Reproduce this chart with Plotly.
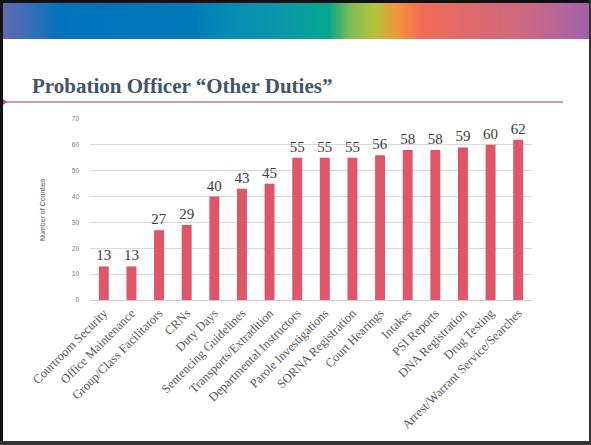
import plotly.graph_objects as go

# ---- data ----
categories = [
    "Courtroom Security", "Office Maintenance", "Group/Class Facilitators", "CRNs",
    "Duty Days", "Sentencing Guidelines", "Transports/Extradition",
    "Departmental Instructors", "Parole Investigations", "SORNA Registration",
    "Court Hearings", "Intakes", "PSI Reports", "DNA Registration", "Drug Testing",
    "Arrest/Warrant Service/Searches",
]
values = [13, 13, 27, 29, 40, 43, 45, 55, 55, 55, 56, 58, 58, 59, 60, 62]
y_ticks = [0, 10, 20, 30, 40, 50, 60, 70]

title_text = "Probation Officer \u201cOther Duties\u201d"
y_title = "Number of Counties"

W, H = 591, 445
ML, MR, MT, MB = 90, 59, 119, 145
PW, PH = W - ML - MR, H - MT - MB


def px(x):
    return (x - ML) / PW


def py(y):
    return 1 - (y - MT) / PH


fig = go.Figure()
fig.add_trace(go.Bar(
    x=categories, y=values,
    marker=dict(color="#DF5668", line=dict(width=0)),
    width=0.36,
    text=[str(v) for v in values], textposition="outside", constraintext="none",
    textfont=dict(family="Liberation Serif, DejaVu Serif, serif", size=15, color="#404040"),
    cliponaxis=False,
    hoverinfo="x+y",
))

shapes = []
# gradient header band
stops = [
    (3, (0x61, 0x67, 0xB1)), (25, (0x3F, 0x6F, 0xB5)), (60, (0x00, 0x72, 0xBB)),
    (190, (0x00, 0x79, 0xB9)), (230, (0x07, 0x8C, 0xB6)), (290, (0x0A, 0x9A, 0xA6)),
    (328, (0x05, 0xA7, 0x8C)), (350, (0x7D, 0xBB, 0x58)), (375, (0xB4, 0xC3, 0x3A)),
    (397, (0xF4, 0x95, 0x3A)), (423, (0xF2, 0x6A, 0x55)), (470, (0xDD, 0x6A, 0x6E)),
    (520, (0xD0, 0x6A, 0x7E)), (560, (0xB8, 0x65, 0x9A)), (589, (0xA0, 0x60, 0xAA)),
]


def col_at(x):
    for (x0, c0), (x1, c1) in zip(stops[:-1], stops[1:]):
        if x0 <= x <= x1:
            t = (x - x0) / (x1 - x0)
            return "rgb(%d,%d,%d)" % tuple(round(a + (b - a) * t) for a, b in zip(c0, c1))
    return "rgb(%d,%d,%d)" % stops[-1][1]


step = 3
xx = 3
while xx < 589:
    x2 = min(xx + step, 589)
    c = col_at((xx + x2) / 2)
    shapes.append(dict(type="rect", xref="paper", yref="paper",
                       x0=px(xx), x1=px(x2 + 0.6), y0=py(39), y1=py(3),
                       fillcolor=c, line=dict(width=0), layer="below"))
    xx = x2

# purple rule under the title
shapes.append(dict(type="line", xref="paper", yref="paper",
                   x0=px(3), x1=px(563), y0=py(102), y1=py(102),
                   line=dict(color="#A97CC2", width=1.5)))
shapes.append(dict(type="path", xref="paper", yref="paper",
                   path="M %f %f L %f %f L %f %f Z" % (px(3), py(99), px(7), py(102), px(3), py(105)),
                   fillcolor="#C0418F", line=dict(width=0)))
# black frame
for (x0, y0, x1, y1, c) in [
    (0, 0, 591, 3, "#111111"), (0, 0, 3, 445, "#111111"),
    (589, 0, 591, 445, "#333333"), (0, 441, 591, 445, "#333333"),
]:
    shapes.append(dict(type="rect", xref="paper", yref="paper",
                       x0=px(x0), x1=px(x1), y0=py(y1), y1=py(y0),
                       fillcolor=c, line=dict(width=0)))

annotations = [
    dict(text="<b>%s</b>" % title_text, xref="paper", yref="paper",
         x=px(30), y=py(86), xanchor="left", yanchor="middle", showarrow=False,
         font=dict(family="Liberation Serif, DejaVu Serif, serif", size=21, color="#44546A")),
    dict(text=y_title, xref="paper", yref="paper", x=px(42), y=py(210),
         xanchor="center", yanchor="middle", textangle=-90, showarrow=False,
         font=dict(family="Liberation Sans, Arial, sans-serif", size=7, color="#595959")),
]

fig.update_layout(
    width=W, height=H,
    margin=dict(l=ML, r=MR, t=MT, b=MB, pad=0),
    paper_bgcolor="white", plot_bgcolor="white",
    showlegend=False, bargap=0.6,
    shapes=shapes, annotations=annotations,
    xaxis=dict(
        tickangle=-45, showgrid=False, showline=True, linecolor="#D0D0D0", linewidth=1,
        ticks="", tickfont=dict(family="Liberation Serif, DejaVu Serif, serif", size=12.5, color="#595959"),
        fixedrange=True,
    ),
    yaxis=dict(
        range=[0, 70], tickvals=y_ticks, showgrid=True, gridcolor="#D9D9D9", gridwidth=1,
        zeroline=False, showline=False, ticks="", ticklabelstandoff=10,
        tickfont=dict(family="Liberation Sans, Arial, sans-serif", size=6.5, color="#7F7F7F"),
        fixedrange=True,
    ),
)

fig.write_html(
    "out.html",
    config={"displayModeBar": False},
    post_script="document.body.style.margin='0';document.body.style.overflow='hidden';",
)
